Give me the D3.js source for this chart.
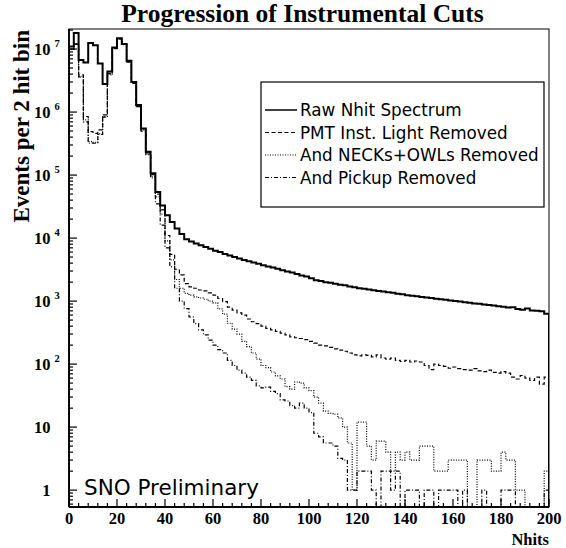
<!DOCTYPE html>
<html>
<head>
<meta charset="utf-8">
<script src="https://cdn.jsdelivr.net/npm/d3@7"></script>
<style>
  body { margin: 0; background: #fff; }
  svg { display: block; }
</style>
</head>
<body>
<div id="chart"></div>
<script>
const width = 566;
const height = 548;

// counts per 2-hit bin, Nhit 0..200 (100 bins)
const binWidth = 2;

const rawCounts = [
  1.1e7, 1.8e7, 6.7e6, 6.1e6, 1.25e7, 1.15e7, 5.9e6, 2.8e6, 4.4e6, 1.06e7,
  1.48e7, 1.2e7, 6.5e6, 3.0e6, 1.29e6, 5.5e5, 2.35e5, 1.07e5, 5.4e4, 3.3e4,
  2.3e4, 1.8e4, 1.42e4, 1.16e4, 9600, 8800, 8200, 7700, 7200, 6800,
  6300, 6000, 5600, 5300, 5000, 4750, 4500, 4300, 4100, 3900,
  3700, 3550, 3400, 3250, 3100, 2950, 2850, 2700, 2550, 2450,
  2300, 2150, 2080, 2000, 1950, 1880, 1820, 1780, 1700, 1660,
  1600, 1570, 1530, 1490, 1450, 1420, 1380, 1360, 1310, 1280,
  1240, 1220, 1190, 1160, 1140, 1120, 1090, 1070, 1050, 1020,
  1000, 985, 960, 945, 920, 905, 880, 870, 850, 830,
  810, 790, 800, 750, 730, 760, 710, 700, 690, 630
];

const pmtCounts = [
  1.0e7, 1.2e7, 3.9e6, 8.5e5, 4.9e5, 4.6e5, 5.2e5, 9.0e5, 4.1e6, 1.03e7,
  1.46e7, 1.19e7, 6.4e6, 2.95e6, 1.27e6, 5.4e5, 2.25e5, 1.02e5, 5.0e4, 2.8e4,
  1.1e4, 5500, 3200, 2600, 1900, 1680, 1600, 1500, 1450, 1350,
  1240, 1100, 980, 800, 720, 650, 600, 520, 470, 440,
  400, 370, 350, 330, 310, 290, 270, 262, 255, 245,
  230, 215, 200, 195, 185, 175, 167, 160, 150, 140,
  135, 140, 138, 130, 140, 125, 120, 125, 115, 110,
  115, 108, 112, 108, 95, 82, 100, 95, 92, 86,
  90, 85, 82, 80, 85, 78, 76, 80, 74, 72,
  76, 72, 62, 58, 66, 60, 55, 62, 48, 62
];

const neckCounts = [
  1.0e7, 1.2e7, 3.7e6, 7.5e5, 3.4e5, 3.3e5, 4.5e5, 8.5e5, 4.0e6, 1.02e7,
  1.45e7, 1.18e7, 6.3e6, 2.9e6, 1.25e6, 5.2e5, 2.15e5, 9.5e4, 4.5e4, 2.4e4,
  9000, 4500, 2200, 1600, 1330, 1240, 1170, 1120, 1070, 1000,
  940, 750, 620, 445, 360, 300, 230, 190, 150, 120,
  95, 88, 75, 65, 58, 44, 40, 52, 50, 42,
  38, 30, 24, 18, 16.5, 16, 14, 10, 5.6, 1,
  12, 12, 5, 3, 6, 6, 4, 2, 4, 3,
  4, 3, 3, 5, 5, 5, 2, 2, 2, 3,
  3, 3, 3, 0, 0, 3, 3, 3, 2, 2,
  4, 3, 3, 1, 1, 0, 0, 0, 0, 2
];

const pickupCounts = [
  1.0e7, 1.2e7, 3.6e6, 7.0e5, 3.2e5, 3.2e5, 4.4e5, 8.3e5, 3.9e6, 1.01e7,
  1.44e7, 1.17e7, 6.2e6, 2.85e6, 1.22e6, 5.0e5, 2.1e5, 9.0e4, 3.5e4, 1.6e4,
  7000, 3500, 1600, 1000, 760, 560, 440, 350, 290, 240,
  200, 170, 150, 115, 95, 80, 72, 62, 55, 45,
  42, 43, 37, 34, 27, 26, 22, 20, 24, 20,
  17, 8, 7, 5.6, 5.6, 5, 3.2, 3, 1, 1,
  2, 2, 2, 1, 0, 2, 2, 1, 2, 0,
  1, 1, 1, 0, 1, 1, 0, 1, 1, 1,
  1, 0, 1, 0, 0, 0, 1, 0, 0, 0,
  1, 1, 1, 0, 0, 0, 0, 0, 0, 1
];

const seriesNames = ["Raw Nhit Spectrum", "PMT Inst. Light Removed", "And NECKs+OWLs Removed", "And Pickup Removed"];
const xTickLabels = [0, 20, 40, 60, 80, 100, 120, 140, 160, 180, 200];
const yDecades = [0, 1, 2, 3, 4, 5, 6, 7];

const serif = "'Liberation Serif', 'Times New Roman', serif";
const sans = "'DejaVu Sans', sans-serif";

const svg = d3.select("#chart")
  .append("svg")
  .attr("width", width)
  .attr("height", height);

const x = d3.scaleLinear().domain([0, 200]).range([69, 549]);
const y = d3.scaleLog().domain([0.54, 2.08e7]).range([507, 29]);
const yMin = y.domain()[0];

svg.append("clipPath")
  .attr("id", "plot-clip")
  .append("rect")
  .attr("x", x(0))
  .attr("y", y.range()[1])
  .attr("width", x(200) - x(0))
  .attr("height", y.range()[0] - y.range()[1]);

// title
svg.append("text")
  .attr("x", 302.5)
  .attr("y", 22)
  .attr("text-anchor", "middle")
  .attr("font-family", serif)
  .attr("font-weight", "bold")
  .attr("font-size", 25.5)
  .text("Progression of Instrumental Cuts");

// histograms, ROOT style outline (rise from and fall to the frame bottom)
function histPoints(counts) {
  let pts = [[0, yMin]];
  counts.forEach((c, i) => pts.push([i * binWidth, Math.max(c, yMin)]));
  let last = counts.length * binWidth;
  pts.push([last, Math.max(counts[counts.length - 1], yMin)]);
  pts.push([last, yMin]);
  return pts;
}

const line = d3.line()
  .x(d => x(d[0]))
  .y(d => y(d[1]))
  .curve(d3.curveStepAfter);

const styles = [
  { width: 2, dash: null },
  { width: 1.2, dash: "4,2.5" },
  { width: 1.2, dash: "1,1.5" },
  { width: 1.2, dash: "4,2,1,2" }
];

const allSeries = [rawCounts, pmtCounts, neckCounts, pickupCounts];

const plot = svg.append("g").attr("clip-path", "url(#plot-clip)");

allSeries.forEach((counts, i) => {
  plot.append("path")
    .attr("d", line(histPoints(counts)))
    .attr("fill", "none")
    .attr("stroke", "black")
    .attr("stroke-width", styles[i].width)
    .attr("stroke-dasharray", styles[i].dash);
});

// frame
svg.append("rect")
  .attr("x", x(0))
  .attr("y", y.range()[1])
  .attr("width", x(200) - x(0))
  .attr("height", y.range()[0] - y.range()[1])
  .attr("fill", "none")
  .attr("stroke", "black")
  .attr("stroke-width", 1);

// x axis ticks, drawn inside
const xMinor = d3.range(0, 201, 4);
const xAxis = svg.append("g");
xAxis.selectAll("line.tick")
  .data(xMinor)
  .enter().append("line")
  .attr("x1", d => x(d))
  .attr("x2", d => x(d))
  .attr("y1", y.range()[0])
  .attr("y2", d => y.range()[0] - (d % 20 === 0 ? 8 : 4))
  .attr("stroke", "black")
  .attr("stroke-width", 1.2);
xAxis.append("line")
  .attr("x1", x(0)).attr("x2", x(200))
  .attr("y1", y.range()[0]).attr("y2", y.range()[0])
  .attr("stroke", "black").attr("stroke-width", 1.8);
xAxis.selectAll("text")
  .data(xTickLabels)
  .enter().append("text")
  .attr("x", d => x(d))
  .attr("y", 524)
  .attr("text-anchor", "middle")
  .attr("font-family", serif)
  .attr("font-weight", "bold")
  .attr("font-size", 16.5)
  .text(d => d);

svg.append("text")
  .attr("x", x(200))
  .attr("y", 545)
  .attr("text-anchor", "end")
  .attr("font-family", serif)
  .attr("font-weight", "bold")
  .attr("font-size", 16.5)
  .text("Nhits");

// y axis ticks (log, minor at 2..9)
let yTicks = [];
for (let d = -1; d <= 7; d++) {
  for (let m = 1; m <= 9; m++) {
    let v = m * Math.pow(10, d);
    if (v >= yMin && v <= y.domain()[1]) yTicks.push({ v: v, major: m === 1 });
  }
}
const yAxis = svg.append("g");
yAxis.selectAll("line.tick")
  .data(yTicks)
  .enter().append("line")
  .attr("x1", x(0))
  .attr("x2", d => x(0) + (d.major ? 8 : 4))
  .attr("y1", d => y(d.v))
  .attr("y2", d => y(d.v))
  .attr("stroke", "black")
  .attr("stroke-width", 1.2);
yAxis.append("line")
  .attr("x1", x(0)).attr("x2", x(0))
  .attr("y1", y.range()[0]).attr("y2", y.range()[1])
  .attr("stroke", "black").attr("stroke-width", 1.8);

yDecades.forEach(k => {
  let ty = y(Math.pow(10, k));
  svg.append("text")
    .attr("x", 50.5)
    .attr("y", ty + 6)
    .attr("text-anchor", "end")
    .attr("font-family", serif)
    .attr("font-weight", "bold")
    .attr("font-size", 16.5)
    .text(k === 0 ? "1" : "10");
  if (k >= 2) {
    svg.append("text")
      .attr("x", 54.5)
      .attr("y", ty - 2)
      .attr("font-family", serif)
      .attr("font-weight", "bold")
      .attr("font-size", 10.5)
      .text(k);
  }
});

svg.append("text")
  .attr("transform", "translate(29,30) rotate(-90)")
  .attr("text-anchor", "end")
  .attr("font-family", serif)
  .attr("font-weight", "bold")
  .attr("font-size", 23)
  .text("Events per 2 hit bin");

// legend
const legend = svg.append("g");
legend.append("rect")
  .attr("x", 261)
  .attr("y", 82)
  .attr("width", 283)
  .attr("height", 125)
  .attr("fill", "white")
  .attr("stroke", "black")
  .attr("stroke-width", 1.2);

const rowBase = [116, 138.5, 161, 183.5];
seriesNames.forEach((name, i) => {
  legend.append("line")
    .attr("x1", 265)
    .attr("x2", 297)
    .attr("y1", rowBase[i] - 6)
    .attr("y2", rowBase[i] - 6)
    .attr("stroke", "black")
    .attr("stroke-width", i === 0 ? 1.5 : 1.2)
    .attr("stroke-dasharray", styles[i].dash);
  legend.append("text")
    .attr("x", 300)
    .attr("y", rowBase[i])
    .attr("font-family", sans)
    .attr("font-size", 16.8)
    .text(name);
});

svg.append("text")
  .attr("x", 84)
  .attr("y", 495)
  .attr("font-family", sans)
  .attr("font-size", 21.5)
  .text("SNO Preliminary");
</script>
</body>
</html>
